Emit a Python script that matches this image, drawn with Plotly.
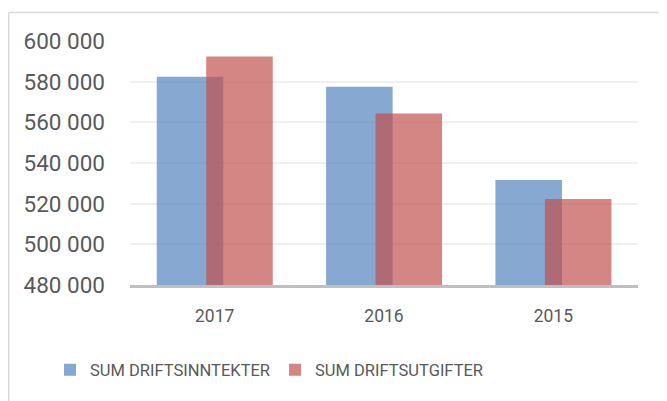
import plotly.graph_objects as go

years = ["2017", "2016", "2015"]
inntekter = [582400, 577500, 531600]
utgifter = [592400, 564400, 522300]
tick_vals = [480000, 500000, 520000, 540000, 560000, 580000, 600000]
tick_text = ["480 000", "500 000", "520 000", "540 000", "560 000", "580 000", "600 000"]

FONT = "Roboto"
GREY = "#595959"

fig = go.Figure()
fig.add_trace(go.Bar(
    x=years, y=inntekter, name="SUM DRIFTSINNTEKTER",
    marker=dict(color="rgba(79,129,189,0.69)", line=dict(width=0)),
    width=0.393, offset=-0.342,
))
fig.add_trace(go.Bar(
    x=years, y=utgifter, name="SUM DRIFTSUTGIFTER",
    marker=dict(color="rgba(192,80,77,0.69)", line=dict(width=0)),
    width=0.393, offset=-0.050,
))

# the page body has an 8px margin, so the figure is 8px smaller
W, H = 659, 393
L, R, T, B = 122, 29, 33, 116
pw, ph = W - L - R, H - T - B

def px(x):
    return (x - L) / pw

def py(y):
    return (H - B - y) / ph

fig.update_layout(
    width=W, height=H,
    margin=dict(l=L, r=R, t=T, b=B, pad=0),
    barmode="overlay",
    plot_bgcolor="white", paper_bgcolor="white",
    font=dict(family=FONT, color=GREY, size=17),
    xaxis=dict(
        showgrid=False, showline=True, linecolor="#bfbfbf", linewidth=2.5,
        ticks="", tickfont=dict(size=17.5, color=GREY), ticklabelstandoff=13,
        range=[-0.5, 2.5], fixedrange=True,
    ),
    yaxis=dict(
        range=[480000, 600000], tickvals=tick_vals, ticktext=tick_text,
        showgrid=True, gridcolor="#f0f0f0", gridwidth=1.5,
        zeroline=False, showline=False, ticks="",
        tickfont=dict(size=22.5, color=GREY), ticklabelstandoff=24,
    ),
    legend=dict(
        orientation="h", x=px(42), xanchor="left",
        y=py(362), yanchor="middle",
        font=dict(size=16.5, color=GREY),
        itemwidth=30, traceorder="normal",
    ),
    shapes=[
        dict(type="line", xref="paper", yref="paper",
             x0=px(0.75), x1=px(700), y0=py(4.5), y1=py(4.5),
             line=dict(color="#d9d9d9", width=1.5)),
        dict(type="line", xref="paper", yref="paper",
             x0=px(0.75), x1=px(0.75), y0=py(4.5), y1=py(420),
             line=dict(color="#d9d9d9", width=1.5)),
    ],
)

fig.write_html("out.html")
